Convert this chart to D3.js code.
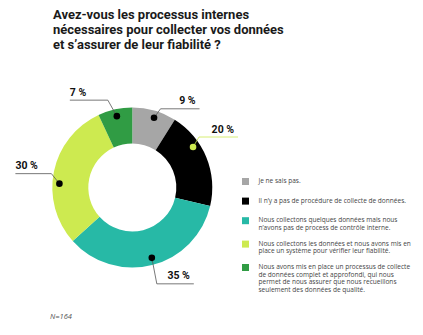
<!DOCTYPE html>
<html>
<head>
<meta charset="utf-8">
<script src="https://cdn.jsdelivr.net/npm/d3@7"></script>
<style>
  body { margin: 0; background: #fff; }
  svg { display: block; }
</style>
</head>
<body>
<div id="viz"></div>
<script>
const width = 423;
const height = 335;

// Data
const titleLines = [
  'Avez-vous les processus internes',
  'nécessaires pour collecter vos données',
  'et s\u2019assurer de leur fiabilité ?'
];
const categories = ['nsp', 'aucune', 'quelques', 'systeme', 'complet'];
const values = [9, 20, 35, 30, 7];
const colors = ['#a6a6a6', '#000000', '#27b9a6', '#cdea50', '#309c44'];
const legendLabels = [
  ['Je ne sais pas.'],
  ['Il n\u2019y a pas de procédure de collecte de données.'],
  ['Nous collectons quelques données mais nous', 'n\u2019avons pas de process de contrôle interne.'],
  ['Nous collectons les données et nous avons mis en', 'place un système pour vérifier leur fiabilité.'],
  ['Nous avons mis en place un processus de collecte', 'de données complet et approfondi, qui nous',
   'permet de nous assurer que nous recueillons', 'seulement des données de qualité.']
];
const sampleNote = 'N=164';

// Leader-line layout (style): position along the arc, elbow offset, line length, direction
const leaders = [
  { t: 0.54, dx: 6.5, dy: -9, len: 39, side: 1 },
  { t: 0.34, dx: 6, dy: -10, len: 39, side: 1 },
  { t: 0.49, dx: 5, dy: 26, len: 37, side: 1 },
  { t: 0.42, dx: -8, dy: -10, len: 36, side: -1 },
  { t: 0.51, dx: -9, dy: -16, len: 38, side: -1 }
];

const svg = d3.select('#viz')
  .append('svg')
    .attr('width', width)
    .attr('height', height)
    .attr('viewBox', [0, 0, width, height]);

// Title, compressed horizontally to match the narrow original face
const title = svg.append('g').attr('class', 'title');
const titleText = title.selectAll('text')
  .data(titleLines)
  .join('text')
    .attr('x', 0)
    .attr('y', (d, i) => 19 + i * 15)
    .attr('fill', '#1a1a1a')
    .style('font-family', 'Roboto, sans-serif')
    .style('font-weight', 700)
    .style('font-size', '12.8px')
    .text(d => d);
const w2 = titleText.nodes()[1].getComputedTextLength();
title.attr('transform', `translate(53,0) scale(${231 / w2},1)`);

// Donut
const cx = 132.3, cy = 187.5;
const outerR = 80, innerR = 44, dotR = 73;

const pie = d3.pie().sort(null).value(d => d);
const arcs = pie(values);
const arc = d3.arc().innerRadius(innerR).outerRadius(outerR);

const g = svg.append('g').attr('transform', `translate(${cx},${cy})`);
g.selectAll('path.slice')
  .data(arcs)
  .join('path')
    .attr('class', 'slice')
    .attr('d', arc)
    .attr('fill', (d, i) => colors[i]);

// Leader lines + labels
const labelData = arcs.map((a, i) => {
  const L = leaders[i];
  const ang = a.startAngle + L.t * (a.endAngle - a.startAngle);
  const x0 = Math.sin(ang) * dotR;
  const y0 = -Math.cos(ang) * dotR;
  const x1 = x0 + L.dx, y1 = y0 + L.dy;
  const x2 = x1 + L.side * L.len;
  return { i, x0, y0, x1, y1, x2, side: L.side, value: values[i],
           ink: colors[i] === '#000000' ? colors[3] : '#000' };
});

const lab = g.selectAll('g.label').data(labelData).join('g').attr('class', 'label');
lab.append('polyline')
  .attr('points', d => `${d.x0},${d.y0} ${d.x1},${d.y1} ${d.x2},${d.y1}`)
  .attr('fill', 'none')
  .attr('stroke', d => d.ink === '#000' ? '#555' : d.ink)
  .attr('stroke-width', 0.8);
lab.append('circle')
  .attr('cx', d => d.x0)
  .attr('cy', d => d.y0)
  .attr('r', 3.3)
  .attr('fill', d => d.ink);
lab.append('text')
  .attr('x', d => d.side > 0 ? d.x2 - 4 : d.x2)
  .attr('y', d => d.y1 - 4.5)
  .attr('text-anchor', d => d.side > 0 ? 'end' : 'start')
  .attr('fill', '#111')
  .style('font-family', 'Roboto, sans-serif')
  .style('font-weight', 700)
  .style('font-size', '10.5px')
  .text(d => `${d.value} %`);

// Legend
let ly = 178;
const legendTops = legendLabels.map(lines => {
  const top = ly;
  ly += lines.length === 1 ? 19.6 : 23.4;
  return top;
});
const legend = svg.append('g').attr('class', 'legend');
const item = legend.selectAll('g')
  .data(legendLabels)
  .join('g')
    .attr('transform', (d, i) => `translate(242,${legendTops[i]})`);
item.append('rect')
  .attr('width', 7)
  .attr('height', 7)
  .attr('fill', (d, i) => colors[i]);
const legendText = item.selectAll('text')
  .data(d => d)
  .join('text')
    .attr('x', 16.5)
    .attr('y', (d, j) => 5 + j * 7.5)
    .attr('fill', '#444')
    .style('font-family', '"Open Sans", sans-serif')
    .style('font-size', '6.5px')
    .text(d => d);
// fit legend width to the original
const ref = legendText.filter(d => d === legendLabels[4][0]).node();
const k = 152 / ref.getComputedTextLength();
legendText.style('font-size', `${6.5 * k}px`);

// Sample size
svg.append('text')
  .attr('x', 50)
  .attr('y', 319)
  .attr('fill', '#555')
  .style('font-family', '"Open Sans", sans-serif')
  .style('font-style', 'italic')
  .style('font-size', '7.5px')
  .text(sampleNote);
</script>
</body>
</html>
